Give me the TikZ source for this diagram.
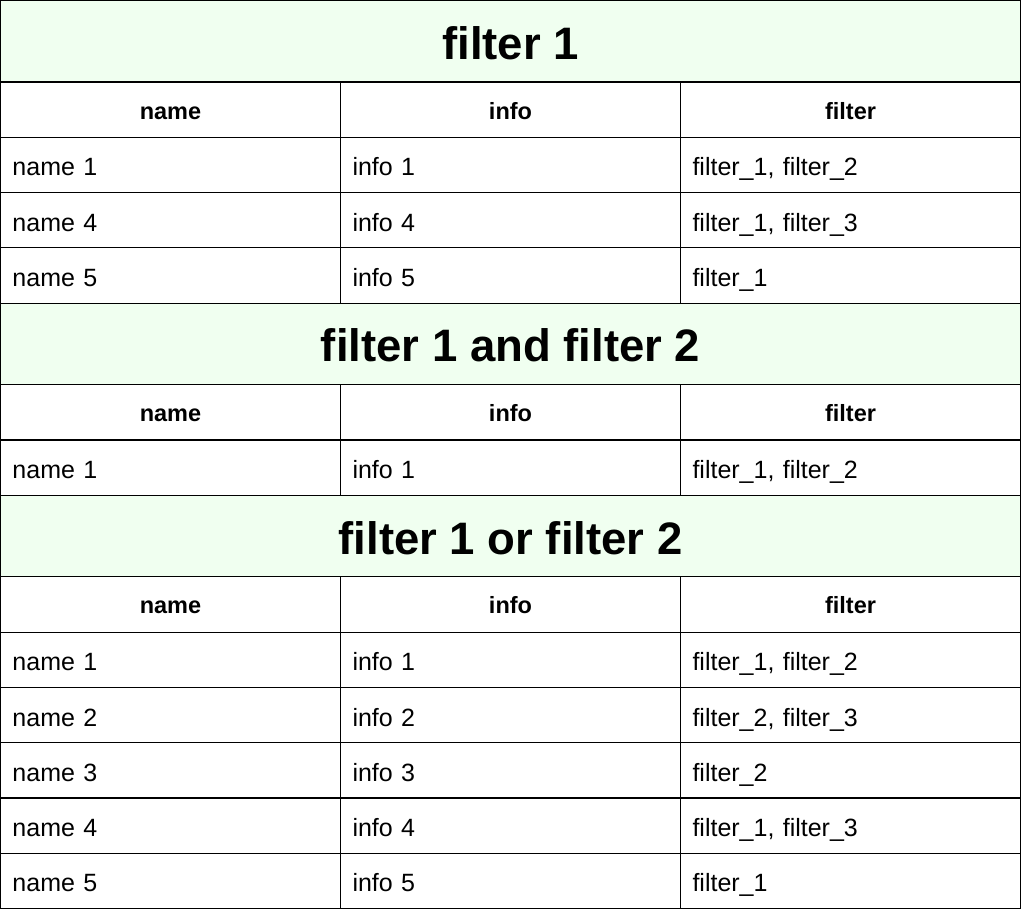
\documentclass[tikz,border=0pt]{standalone}
\usepackage{fontspec}
\setmainfont{Liberation Sans}
\usetikzlibrary{positioning}
\definecolor{titlegreen}{RGB}{240,255,240}
\tikzset{
  every node/.style={
    font=\fontsize{25}{30}\selectfont,
    inner sep=0pt,
    outer sep=0pt
  },
  title/.style={
    draw,
    line width=1.2pt,
    fill=titlegreen,
    minimum width=1020pt,
    minimum height=81.5pt,
    text height=36pt,
    text depth=0pt,
    font=\fontsize{45.5}{52}\selectfont\bfseries,
    anchor=north west
  },
  head/.style={
    draw,
    line width=1.2pt,
    minimum width=340pt,
    minimum height=55.3pt,
    text height=19pt,
    text depth=0pt,
    font=\fontsize{23.5}{28}\selectfont\bfseries
  },
  cell/.style={
    draw,
    line width=1.2pt,
    minimum height=55.3pt,
    text height=22pt,
    text depth=0pt,
    inner xsep=12pt,
    text width=316pt,
    align=left
  }
}

\begin{document}
\begin{tikzpicture}[x=1pt,y=-1pt]
  \useasboundingbox (0,0) rectangle (1021,909);
  % filter 1
  \node [title] (t1) at (0.5,0.5) {filter 1};
  \node [head, below right=0pt and 0pt of t1.south west] (n10) {name};
  \node [head, right=0pt of n10] (i10) {info};
  \node [head, right=0pt of i10] (f10) {filter};
  \foreach \k/\v [count=\i, remember=\i as \j (initially 0)] in
    {1/{filter\_1, filter\_2}, 4/{filter\_1, filter\_3}, 5/{filter\_1}} {
    \node [cell, below right=0pt and 0pt of n1\j.south west] (n1\i) {name \k};
    \node [cell, right=0pt of n1\i] (i1\i) {info \k};
    \node [cell, right=0pt of i1\i] (f1\i) {\v};
  }
  % filter 1 and filter 2
  \node [title, below right=0pt and 0pt of n13.south west] (t2) {filter 1 and filter 2};
  \node [head, below right=0pt and 0pt of t2.south west] (n20) {name};
  \node [head, right=0pt of n20] (i20) {info};
  \node [head, right=0pt of i20] (f20) {filter};
  \node [cell, below right=0pt and 0pt of n20.south west] (n21) {name 1};
  \node [cell, right=0pt of n21] (i21) {info 1};
  \node [cell, right=0pt of i21] (f21) {filter\_1, filter\_2};
  % filter 1 or filter 2
  \node [title, below right=0pt and 0pt of n21.south west] (t3) {filter 1 or filter 2};
  \node [head, below right=0pt and 0pt of t3.south west] (n30) {name};
  \node [head, right=0pt of n30] (i30) {info};
  \node [head, right=0pt of i30] (f30) {filter};
  \foreach \k/\v [count=\i, remember=\i as \j (initially 0)] in
    {1/{filter\_1, filter\_2}, 2/{filter\_2, filter\_3}, 3/{filter\_2},
     4/{filter\_1, filter\_3}, 5/{filter\_1}} {
    \node [cell, below right=0pt and 0pt of n3\j.south west] (n3\i) {name \k};
    \node [cell, right=0pt of n3\i] (i3\i) {info \k};
    \node [cell, right=0pt of i3\i] (f3\i) {\v};
  }
\end{tikzpicture}
\end{document}
